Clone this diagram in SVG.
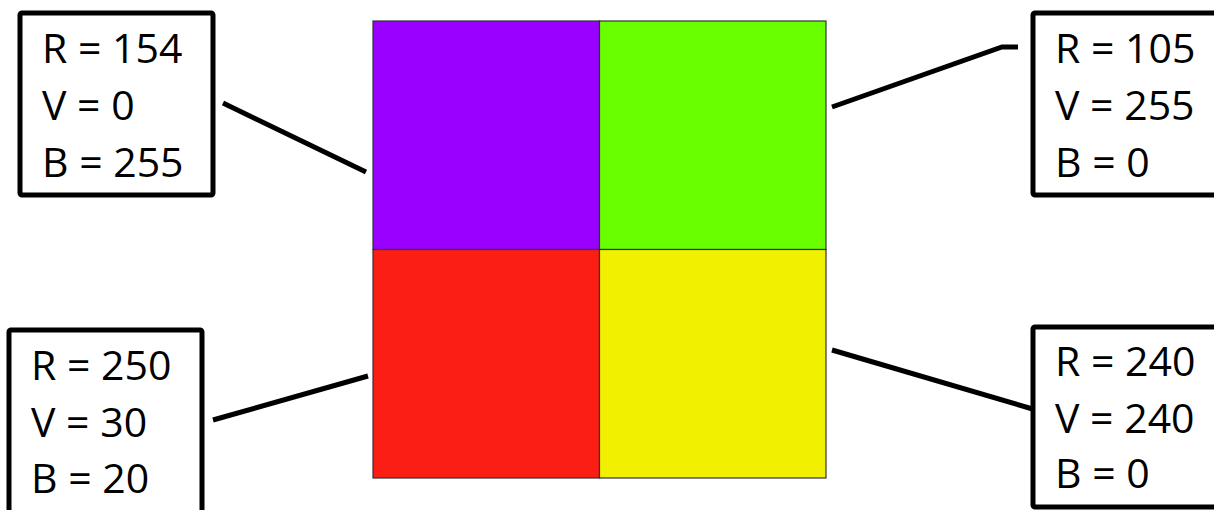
<svg xmlns="http://www.w3.org/2000/svg" width="1214" height="510" viewBox="0 0 1214 510">
<style>
.box{fill:#fff;stroke:#000;stroke-width:5}
.lbl{font-family:"Open Sans","Liberation Sans",sans-serif;font-size:41px;fill:#000}
.cell{stroke:#333;stroke-width:1.2}
.conn{fill:none;stroke:#000;stroke-width:5}
</style>
<rect width="1214" height="510" fill="#fff"/>
<g id="grid">
<rect class="cell" x="373" y="21" width="226.5" height="228.5" fill="rgb(154,0,255)"/>
<rect class="cell" x="599.5" y="21" width="226.5" height="228.5" fill="rgb(105,255,0)"/>
<rect class="cell" x="373" y="249.5" width="226.5" height="228.5" fill="rgb(250,30,20)"/>
<rect class="cell" x="599.5" y="249.5" width="226.5" height="228.5" fill="rgb(240,240,0)"/>
</g>
<g id="connectors">
<line class="conn" x1="223" y1="103" x2="366" y2="172"/>
<polyline class="conn" points="832,107 1002,47 1018,47"/>
<line class="conn" x1="213" y1="420" x2="368" y2="376"/>
<line class="conn" x1="832" y1="350" x2="1036" y2="410"/>
</g>
<g id="box-purple">
<rect class="box" x="20" y="13" width="193" height="182" rx="2"/>
<text class="lbl" x="42" y="63">R = 154</text>
<text class="lbl" x="42" y="120">V = 0</text>
<text class="lbl" x="42" y="177">B = 255</text>
</g>
<g id="box-green">
<rect class="box" x="1033" y="13" width="190" height="182" rx="2"/>
<text class="lbl" x="1055" y="63">R = 105</text>
<text class="lbl" x="1055" y="120">V = 255</text>
<text class="lbl" x="1055" y="177">B = 0</text>
</g>
<g id="box-red">
<rect class="box" x="9" y="330" width="193" height="190" rx="2"/>
<text class="lbl" x="31" y="380">R = 250</text>
<text class="lbl" x="31" y="437">V = 30</text>
<text class="lbl" x="31" y="493">B = 20</text>
</g>
<g id="box-yellow">
<rect class="box" x="1033" y="327" width="190" height="180" rx="2"/>
<text class="lbl" x="1055" y="376">R = 240</text>
<text class="lbl" x="1055" y="433">V = 240</text>
<text class="lbl" x="1055" y="488">B = 0</text>
</g>
</svg>
